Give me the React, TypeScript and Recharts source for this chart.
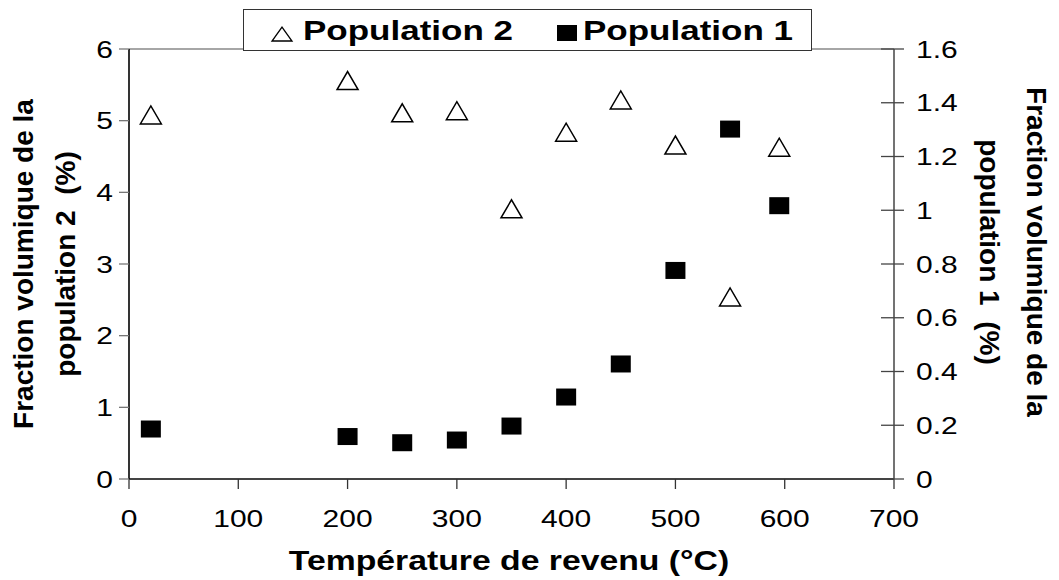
import { ScatterChart, Scatter, XAxis, YAxis, ReferenceLine, Label } from "recharts";

const TEMPERATURES = [20, 200, 250, 300, 350, 400, 450, 500, 550, 595];
const POPULATION_2 = [5.08, 5.56, 5.11, 5.14, 3.77, 4.84, 5.29, 4.66, 2.54, 4.63];
const POPULATION_1 = [0.186, 0.158, 0.135, 0.145, 0.197, 0.305, 0.428, 0.776, 1.302, 1.017];

const X_TICKS = [0, 100, 200, 300, 400, 500, 600, 700];
const LEFT_TICKS = [0, 1, 2, 3, 4, 5, 6];
const RIGHT_TICKS = [0, 0.2, 0.4, 0.6, 0.8, 1, 1.2, 1.4, 1.6];

const FONT = "'Liberation Sans', Arial, Helvetica, sans-serif";
const STRETCH = 1.25; // the source picture is stretched horizontally

const pop2Data = TEMPERATURES.map((t, i) => ({ x: t, y: POPULATION_2[i] }));
const pop1Data = TEMPERATURES.map((t, i) => ({ x: t, y: POPULATION_1[i] }));

function Wide({ x, y, anchor, size, bold, children }: any) {
  return (
    <text
      transform={`translate(${x},${y}) scale(${STRETCH},1)`}
      textAnchor={anchor}
      fontSize={size}
      fontWeight={bold ? "bold" : "normal"}
      fontFamily={FONT}
      fill="#000"
      style={{ whiteSpace: "pre" }}
    >
      {children}
    </text>
  );
}

const XTick = ({ x, y, payload }: any) => (
  <g>
    <line x1={x} x2={x} y1={y} y2={y + 10} stroke="#333" strokeWidth={1.3} />
    <Wide x={x} y={527} anchor="middle" size={24}>{payload.value}</Wide>
  </g>
);

const LeftTick = ({ x, y, payload }: any) => (
  <g>
    <line x1={x - 10} x2={x} y1={y} y2={y} stroke="#777" strokeWidth={1.3} />
    <Wide x={x - 16} y={y + 8.5} anchor="end" size={24}>{payload.value}</Wide>
  </g>
);

const RightTick = ({ x, y, payload }: any) => (
  <g>
    <line x1={x - 13} x2={x + 10} y1={y} y2={y} stroke="#444" strokeWidth={1.3} />
    <Wide x={x + 22} y={y + 8.5} anchor="start" size={24}>{payload.value}</Wide>
  </g>
);

const Triangle = ({ cx, cy }: any) => (
  <polygon
    points={`${cx - 10.5},${cy + 9} ${cx + 10.5},${cy + 9} ${cx},${cy - 9}`}
    fill="#fff"
    stroke="#000"
    strokeWidth={1.5}
  />
);

const Square = ({ cx, cy }: any) => (
  <rect x={cx - 10} y={cy - 8.5} width={20} height={17} fill="#000" />
);

const titleStyle = { fontFamily: FONT, fontWeight: "bold" as const, fontSize: 28, whiteSpace: "pre" as const };

const LeftTitle = ({ viewBox }: any) => {
  const cy = viewBox.y + viewBox.height / 2;
  return (
    <g>
      <text transform={`translate(33,${cy}) rotate(-90)`} textAnchor="middle" style={titleStyle}>
        Fraction volumique de la
      </text>
      <text transform={`translate(75,${cy}) rotate(-90)`} textAnchor="middle" style={titleStyle}>
        population 2  (%)
      </text>
    </g>
  );
};

const RightTitle = ({ viewBox }: any) => {
  const cy = viewBox.y + viewBox.height / 2 - 12;
  return (
    <g>
      <text transform={`translate(1027,${cy}) rotate(90)`} textAnchor="middle" style={titleStyle}>
        Fraction volumique de la
      </text>
      <text transform={`translate(980,${cy}) rotate(90)`} textAnchor="middle" style={titleStyle}>
        population 1  (%)
      </text>
    </g>
  );
};

const XTitle = () => (
  <Wide x={509} y={570} anchor="middle" size={27} bold>
    Température de revenu (°C)
  </Wide>
);

function LegendBox() {
  return (
    <div
      style={{
        position: "absolute", left: 243, top: 9, width: 569, height: 42,
        boxSizing: "border-box", border: "1.3px solid #333", background: "#fff",
      }}
    >
      <svg width={567} height={40} style={{ display: "block" }}>
        <polygon points="28,31 48,31 38,17" fill="#fff" stroke="#000" strokeWidth={1.3} />
        <Wide x={59} y={30} anchor="start" size={28} bold>Population 2</Wide>
        <rect x={313} y={15} width={20} height={16} fill="#000" />
        <Wide x={339} y={30} anchor="start" size={28} bold>Population 1</Wide>
      </svg>
    </div>
  );
}

export default function App() {
  return (
    <div style={{ position: "absolute", left: 0, top: 0, width: 1059, height: 580, background: "#fff" }}>
      <ScatterChart width={1059} height={580} margin={{ top: 49, right: 0, bottom: 0, left: 0 }}>
        <XAxis
          type="number" dataKey="x" domain={[0, 700]} ticks={X_TICKS} height={101}
          tickLine={false} tickSize={0} tickMargin={0} tick={<XTick />}
          axisLine={{ stroke: "#444", strokeWidth: 2 }}
        >
          <Label content={<XTitle />} />
        </XAxis>
        <YAxis
          yAxisId="left" type="number" dataKey="y" domain={[0, 6]} ticks={LEFT_TICKS} width={129}
          tickLine={false} tickSize={0} tickMargin={0} tick={<LeftTick />}
          axisLine={{ stroke: "#000", strokeWidth: 1.6 }}
        >
          <Label content={<LeftTitle />} />
        </YAxis>
        <YAxis
          yAxisId="right" orientation="right" type="number" dataKey="y" domain={[0, 1.6]}
          ticks={RIGHT_TICKS} width={165}
          tickLine={false} tickSize={0} tickMargin={0} tick={<RightTick />}
          axisLine={{ stroke: "#444", strokeWidth: 1.5 }}
        >
          <Label content={<RightTitle />} />
        </YAxis>
        <ReferenceLine yAxisId="left" y={6} stroke="#888" strokeWidth={1.3} />
        <Scatter name="Population 2" data={pop2Data} yAxisId="left" shape={<Triangle />} isAnimationActive={false} />
        <Scatter name="Population 1" data={pop1Data} yAxisId="right" shape={<Square />} isAnimationActive={false} />
      </ScatterChart>
      <LegendBox />
    </div>
  );
}
